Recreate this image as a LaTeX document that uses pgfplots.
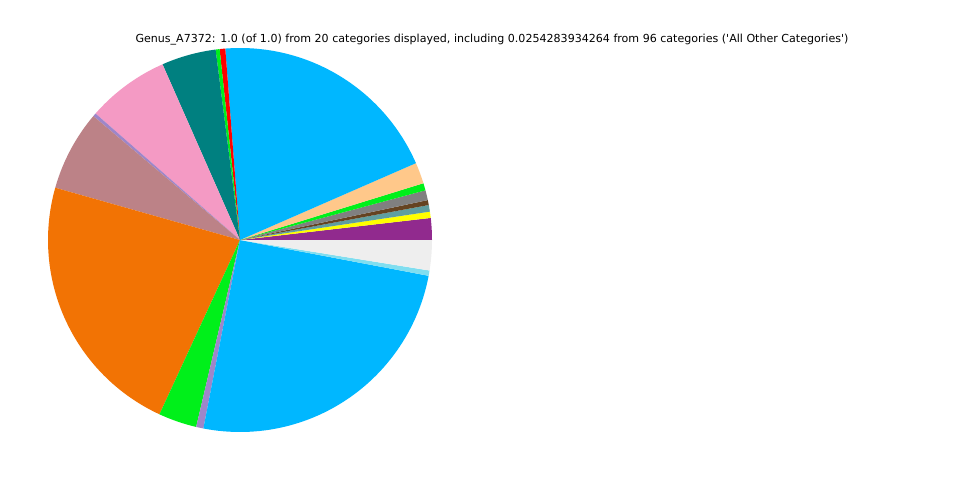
\documentclass[border=0pt]{standalone}
\usepackage{pgfplots}
\pgfplotsset{compat=1.18}
\usepackage{fontspec}
\setmainfont{DejaVu Sans}[Ligatures=TeXOff]
\definecolor{cpurple}{HTML}{912A8E}
\definecolor{cyellow}{HTML}{FFFF00}
\definecolor{ccadet}{HTML}{5F9EA0}
\definecolor{cbrown}{HTML}{654321}
\definecolor{cgrey}{HTML}{808080}
\definecolor{cgreen}{HTML}{00F01A}
\definecolor{cpeach}{HTML}{FFC88A}
\definecolor{cblue}{HTML}{00B7FF}
\definecolor{cred}{HTML}{FF0000}
\definecolor{cteal}{HTML}{008080}
\definecolor{cpink}{HTML}{F49AC4}
\definecolor{clav}{HTML}{9E86C9}
\definecolor{crosy}{HTML}{BC8287}
\definecolor{corange}{HTML}{F27304}
\definecolor{clblue}{HTML}{80DEF0}
\definecolor{clgrey}{HTML}{EEEEEE}
\newcommand{\slice}[3]{\addplot[fill=#1, draw=none, domain=#2:#3, samples=60] ({240+192*cos(x)},{240+192*sin(x)}) -- (axis cs:240,240) -- cycle;}
\begin{document}
\begin{tikzpicture}
\begin{axis}[scale only axis, width=720pt, height=360pt,
  xmin=0, xmax=960, ymin=0, ymax=480, hide axis, clip=false]
\path (rel axis cs:0,0) rectangle (rel axis cs:1,1);
% start and end angles (degrees) of each wedge
\slice{cpurple}{0}{6.6}
\slice{cyellow}{6.6}{8.5}
\slice{ccadet}{8.5}{10.5}
\slice{cbrown}{10.5}{12.0}
\slice{cgrey}{12.0}{15.0}
\slice{cgreen}{15.0}{17.2}
\slice{cpeach}{17.2}{23.6}
\slice{cblue}{23.6}{94.4}
\slice{cred}{94.4}{96.1}
\slice{cgreen}{96.1}{97.3}
\slice{cteal}{97.3}{113.8}
\slice{cpink}{113.8}{138.8}
\slice{clav}{138.8}{139.8}
\slice{crosy}{139.8}{164.2}
\slice{corange}{164.2}{245.2}
\slice{cgreen}{245.2}{256.8}
\slice{clav}{256.8}{259.0}
\slice{cblue}{259.0}{349.25}
\slice{clblue}{349.25}{350.85}
\slice{clgrey}{350.85}{360}
\node[font=\fontsize{8.3}{10}\selectfont, anchor=center] at (axis cs:492,440.5) {Genus\_A7372: 1.0 (of 1.0) from 20 categories displayed, including 0.0254283934264 from 96 categories ('All Other Categories')};
\end{axis}
\end{tikzpicture}
\end{document}
